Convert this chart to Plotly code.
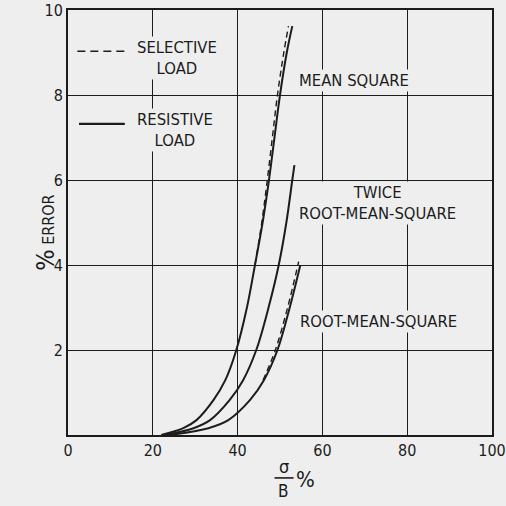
import plotly.graph_objects as go

BG = "#eeeeee"
INK = "#1c1c1c"
FONT = "DejaVu Sans Condensed, DejaVu Sans, sans-serif"

# curves: x = sigma/B %, y = % error
ms_x = [22, 27.2, 30.3, 34.3, 37.1, 39.7, 42.2, 44.1, 45.9, 47.4, 48.7, 50.0, 51.6, 52.9]
ms_y = [0, 0.16, 0.35, 0.82, 1.29, 2.0, 3.0, 4.0, 5.0, 6.0, 7.0, 8.0, 9.0, 9.62]
ms_sel_x = [44.1, 45.7, 47.0, 48.2, 49.4, 50.9, 52.0]
ms_sel_y = [4.0, 5.0, 6.0, 7.0, 8.0, 9.0, 9.62]

trms_x = [23, 29.6, 33.5, 38.1, 41.3, 44.4, 47.3, 49.7, 51.5, 52.9, 53.4]
trms_y = [0, 0.16, 0.35, 0.82, 1.29, 2.0, 3.0, 4.0, 5.0, 6.0, 6.35]

rms_x = [24, 33.1, 37.8, 42.9, 46.2, 49.4, 52.3, 54.8]
rms_y = [0, 0.16, 0.35, 0.82, 1.29, 2.0, 3.0, 4.0]
rms_sel_x = [46.0, 48.9, 51.8, 54.4]
rms_sel_y = [1.29, 2.0, 3.0, 4.08]

x_ticks = [0, 20, 40, 60, 80, 100]
y_ticks = [2, 4, 6, 8, 10]

fig = go.Figure()

for xs, ys in [(ms_x, ms_y), (trms_x, trms_y), (rms_x, rms_y)]:
    fig.add_trace(go.Scatter(x=xs, y=ys, mode="lines", showlegend=False, hoverinfo="skip",
                             line=dict(color=INK, width=2, shape="spline", smoothing=1)))
for xs, ys in [(ms_sel_x, ms_sel_y), (rms_sel_x, rms_sel_y)]:
    fig.add_trace(go.Scatter(x=xs, y=ys, mode="lines", showlegend=False, hoverinfo="skip",
                             line=dict(color=INK, width=1.4, dash="6px,4px", shape="spline", smoothing=1)))

# legend samples
fig.add_shape(type="line", xref="x", yref="y", x0=2.2, x1=13.4, y0=9.03, y1=9.03,
              line=dict(color=INK, width=1.6, dash="8px,5px"))
fig.add_shape(type="line", xref="x", yref="y", x0=2.6, x1=13.4, y0=7.32, y1=7.32,
              line=dict(color=INK, width=2.4))

def label(x, y, text, anchor="left"):
    fig.add_annotation(x=x, y=y, xref="x", yref="y", text=text, showarrow=False,
                       xanchor=anchor, yanchor="middle", align="center",
                       bgcolor=BG, borderpad=1,
                       font=dict(family=FONT, size=16.5, color=INK))

label(15.8, 8.88, "SELECTIVE<br>LOAD")
label(15.8, 7.17, "RESISTIVE<br>LOAD")
label(54.0, 8.35, "MEAN SQUARE")
label(54.0, 5.47, "TWICE<br>ROOT-MEAN-SQUARE")
label(54.2, 2.66, "ROOT-MEAN-SQUARE")

# axis titles
fig.add_annotation(x=-0.094, y=0.475, xref="paper", yref="paper",
                   text="<span style='font-size:25px'>%</span> ERROR", textangle=-90,
                   showarrow=False, font=dict(family=FONT, size=16, color=INK))
fig.add_annotation(x=0.509, y=-0.073, xref="paper", yref="paper", text="σ",
                   showarrow=False, yanchor="middle", font=dict(family=FONT, size=18, color=INK))
fig.add_annotation(x=0.509, y=-0.132, xref="paper", yref="paper", text="B",
                   showarrow=False, yanchor="middle", font=dict(family=FONT, size=17, color=INK))
fig.add_shape(type="line", xref="paper", yref="paper", x0=0.487, x1=0.532, y0=-0.101, y1=-0.101,
              line=dict(color=INK, width=1.6))
fig.add_annotation(x=0.561, y=-0.104, xref="paper", yref="paper", text="%",
                   showarrow=False, yanchor="middle", font=dict(family=FONT, size=22, color=INK))

fig.update_xaxes(range=[0, 100], tickvals=x_ticks, showgrid=True, gridcolor=INK, gridwidth=1.2,
                 zeroline=False, showline=True, linecolor=INK, linewidth=2, mirror=True,
                 ticks="", automargin=False, tickfont=dict(family=FONT, size=16, color=INK))
fig.update_yaxes(range=[0, 10], tickvals=y_ticks, showgrid=True, gridcolor=INK, gridwidth=1.2,
                 zeroline=False, showline=True, linecolor=INK, linewidth=2, mirror=True,
                 ticks="", automargin=False, tickfont=dict(family=FONT, size=16, color=INK))

fig.update_layout(width=506, height=506, paper_bgcolor=BG, plot_bgcolor=BG,
                  margin=dict(l=68, r=14, t=10, b=71), font=dict(family=FONT, color=INK))

fig.write_html("out.html", config={"displayModeBar": False})

# drop the browser's default page margin so the figure sits at 0,0
with open("out.html", encoding="utf-8") as f:
    page = f.read()
page = page.replace("<head>", "<head><style>body{margin:0;}</style>", 1)
with open("out.html", "w", encoding="utf-8") as f:
    f.write(page)
